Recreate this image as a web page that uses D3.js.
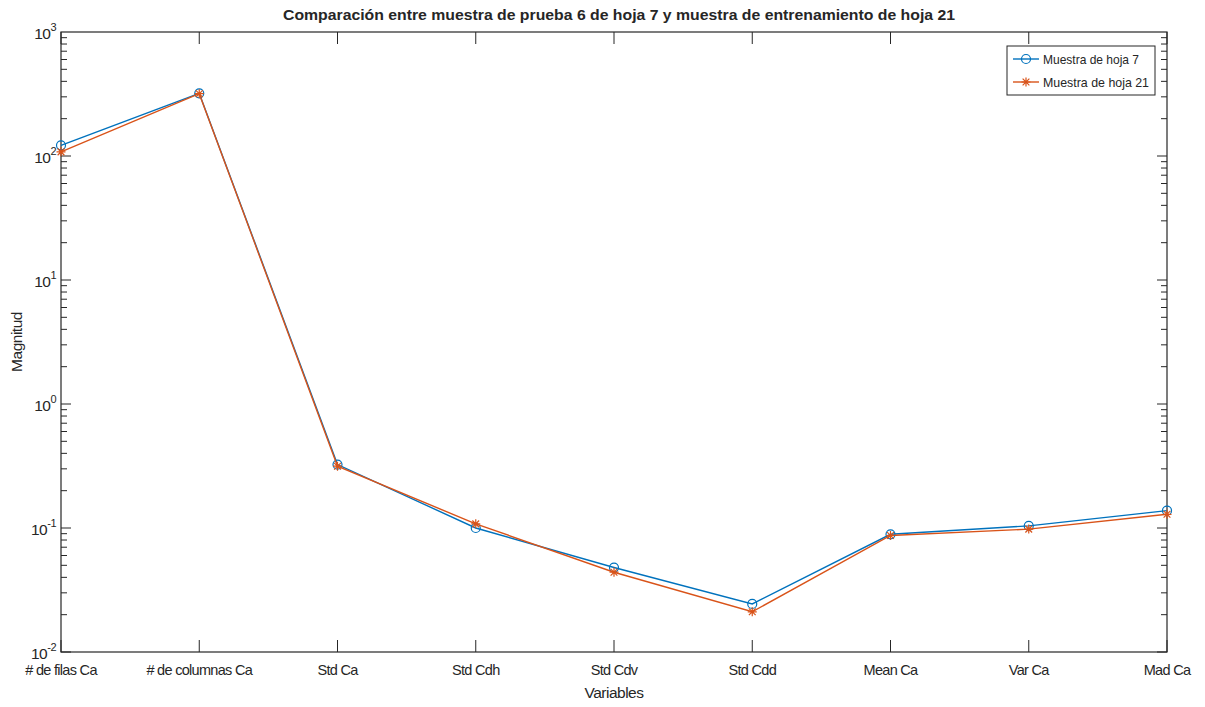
<!DOCTYPE html>
<html>
<head>
<meta charset="utf-8">
<script src="https://cdn.jsdelivr.net/npm/d3@7/dist/d3.min.js"></script>
<style>
  html, body { margin: 0; padding: 0; background: #fff; }
  svg { display: block; }
  text { font-family: "Liberation Sans", Arial, Helvetica, sans-serif; fill: #262626; }
</style>
</head>
<body>
<svg id="chart" width="1205" height="707"></svg>
<script>
// Feature names along the x axis
const categories = ["# de filas Ca", "# de columnas Ca", "Std Ca", "Std Cdh", "Std Cdv", "Std Cdd", "Mean Ca", "Var Ca", "Mad Ca"];
// Feature magnitudes for each sample
const hoja7  = [122, 320, 0.325, 0.100, 0.048, 0.0244, 0.089, 0.104, 0.138];
const hoja21 = [108, 318, 0.315, 0.108, 0.044, 0.0211, 0.087, 0.098, 0.129];
const seriesNames = ["Muestra de hoja 7", "Muestra de hoja 21"];
const yTickExponents = [-2, -1, 0, 1, 2, 3];

const titleText = "Comparación entre muestra de prueba 6 de hoja 7 y muestra de entrenamiento de hoja 21";
const xLabel = "Variables";
const yLabel = "Magnitud";

const blue = "#0072BD", red = "#D95319", axisCol = "#262626";
const plotL = 61, plotR = 1167, plotT = 32, plotB = 652;

const svg = d3.select("#chart");

const x = d3.scalePoint().domain(categories).range([plotL, plotR]);
const y = d3.scaleLog().domain([1e-2, 1e3]).range([plotB, plotT]);

// Axes box
svg.append("rect")
  .attr("x", plotL).attr("y", plotT).attr("width", plotR - plotL).attr("height", plotB - plotT)
  .attr("fill", "none").attr("stroke", axisCol).attr("stroke-width", 1.2);

// Log ticks (major + minor) on left and right edges, pointing inward
const ticks = svg.append("g").attr("stroke", axisCol).attr("stroke-width", 1);
for (let e = -2; e < 3; e++) {
  for (let m = 1; m <= 9; m++) {
    const v = m * Math.pow(10, e);
    const len = m === 1 ? 10 : 6;
    const yy = y(v);
    ticks.append("line").attr("x1", plotL).attr("x2", plotL + len).attr("y1", yy).attr("y2", yy);
    ticks.append("line").attr("x1", plotR).attr("x2", plotR - len).attr("y1", yy).attr("y2", yy);
  }
}
// Category ticks on bottom and top edges
categories.forEach(c => {
  const xx = x(c);
  ticks.append("line").attr("x1", xx).attr("x2", xx).attr("y1", plotB).attr("y2", plotB - 12);
  ticks.append("line").attr("x1", xx).attr("x2", xx).attr("y1", plotT).attr("y2", plotT + 12);
});

// Y tick labels as 10^n
yTickExponents.forEach(e => {
  const t = svg.append("text")
    .attr("x", plotL - 5).attr("y", y(Math.pow(10, e)) + 7)
    .attr("text-anchor", "end").attr("font-size", 15.5)
    .attr("letter-spacing", -0.5);
  t.append("tspan").text("10");
  t.append("tspan").attr("dy", -8).attr("font-size", 11).text(String(e));
});

// X tick labels
categories.forEach(c => {
  svg.append("text")
    .attr("x", x(c)).attr("y", 675)
    .attr("text-anchor", "middle").attr("font-size", 14.5)
    .attr("letter-spacing", -0.7)
    .text(c);
});

// Axis titles
svg.append("text").attr("x", (plotL + plotR) / 2).attr("y", 698)
  .attr("text-anchor", "middle").attr("font-size", 15.5).attr("letter-spacing", -0.5).text(xLabel);
svg.append("text").attr("transform", `translate(22,${(plotT + plotB) / 2}) rotate(-90)`)
  .attr("text-anchor", "middle").attr("font-size", 15.5).attr("letter-spacing", -0.5).text(yLabel);

// Title
svg.append("text").attr("x", 619).attr("y", 20)
  .attr("text-anchor", "middle").attr("font-size", 15).attr("font-weight", "bold")
  .attr("textLength", 672).attr("lengthAdjust", "spacingAndGlyphs")
  .text(titleText);

// Lines
const line = d3.line().x((d, i) => x(categories[i])).y(d => y(d));
const plot = svg.append("g");

function drawCircle(g, cx, cy, color) {
  g.append("circle").attr("cx", cx).attr("cy", cy).attr("r", 4.5)
    .attr("fill", "none").attr("stroke", color).attr("stroke-width", 1.2);
}
function drawStar(g, cx, cy, color) {
  const s = 4.5, d = s * 0.75;
  const p = `M${cx - s},${cy}L${cx + s},${cy}M${cx},${cy - s}L${cx},${cy + s}` +
            `M${cx - d},${cy - d}L${cx + d},${cy + d}M${cx - d},${cy + d}L${cx + d},${cy - d}`;
  g.append("path").attr("d", p).attr("stroke", color).attr("stroke-width", 1.2).attr("fill", "none");
}

plot.append("path").datum(hoja7).attr("d", line)
  .attr("fill", "none").attr("stroke", blue).attr("stroke-width", 1.4);
hoja7.forEach((v, i) => drawCircle(plot, x(categories[i]), y(v), blue));

plot.append("path").datum(hoja21).attr("d", line)
  .attr("fill", "none").attr("stroke", red).attr("stroke-width", 1.4);
hoja21.forEach((v, i) => drawStar(plot, x(categories[i]), y(v), red));

// Legend
const lg = svg.append("g");
const lx = 1007, ly = 46, lw = 148, lh = 49;
lg.append("rect").attr("x", lx).attr("y", ly).attr("width", lw).attr("height", lh)
  .attr("fill", "#fff").attr("stroke", axisCol).attr("stroke-width", 1);
[[blue, drawCircle], [red, drawStar]].forEach(([col, mk], i) => {
  const yy = ly + 13 + i * 23;
  lg.append("line").attr("x1", lx + 6).attr("x2", lx + 32).attr("y1", yy).attr("y2", yy)
    .attr("stroke", col).attr("stroke-width", 1.4);
  mk(lg, lx + 19, yy, col);
  lg.append("text").attr("x", lx + 36).attr("y", yy + 4.5).attr("font-size", 13)
    .attr("textLength", i === 0 ? 96 : 106).attr("lengthAdjust", "spacingAndGlyphs")
    .text(seriesNames[i]);
});
</script>
</body>
</html>
